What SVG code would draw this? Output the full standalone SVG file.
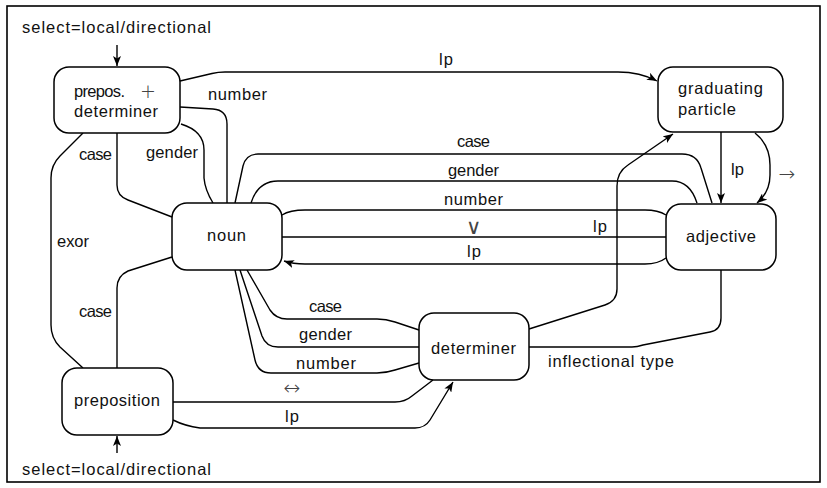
<svg xmlns="http://www.w3.org/2000/svg" width="827" height="488" viewBox="0 0 827 488">
  <defs>
    <marker id="arr" viewBox="0 0 10 8" refX="10" refY="4" markerWidth="10" markerHeight="8" markerUnits="userSpaceOnUse" orient="auto">
      <path d="M0,0 L10,4 L0,8 L2.5,4 Z" fill="#000"/>
    </marker>
    <style>
      text { font-family: "Liberation Sans", Arial, sans-serif; font-size: 16.5px; fill: #111; }
      .sym { font-family: "DejaVu Sans", sans-serif; font-weight: 200; fill: #444; }
      .node rect { fill: #fff; stroke: #000; stroke-width: 1.5; }
      .edges path { fill: none; stroke: #000; stroke-width: 1.4; }
      .edges path.arrow { marker-end: url(#arr); }
      .mid { text-anchor: middle; }
    </style>
  </defs>
  <rect width="827" height="488" fill="#fff"/>
  <rect x="7" y="6" width="813" height="476" fill="none" stroke="#000" stroke-width="1.6"/>

  <!-- connectors -->
  <g class="edges">
    <!-- external selection inputs -->
    <path class="arrow" d="M117,45 L117,66"/>
    <path class="arrow" d="M117,453 L117,436"/>
    <!-- prepos.+determiner edges -->
    <path class="arrow" d="M180,81 L212,73.5 Q218,72 225,72 L618,72 Q640,72 657,81"/>
    <path d="M180,107 L213,109 Q227,110 227,124 L227,203"/>
    <path d="M181,124 Q204,131 204,150 L204,178 Q205,190 213,203"/>
    <path d="M117,133 L117,185 Q117,196 128,200 L172,217"/>
    <path d="M83,133 L60,156 Q51,165 51,178 L51,325 Q51,338 60,347 L83,368"/>
    <!-- preposition to noun -->
    <path d="M117,368 L117,288 Q117,276 128,271 L172,257"/>
    <!-- noun to adjective -->
    <path d="M235,203 L243,166 Q246,154 258,154 L682,154 Q697,154 701,168 L712,203"/>
    <path d="M251,203 Q258,181 278,181 L672,181 Q690,181 697,203"/>
    <path d="M282,215 Q290,210 305,210 L645,210 Q658,210 666,215"/>
    <path d="M282,237 L666,237"/>
    <path class="arrow" d="M666,258 Q658,264 645,264 L305,264 Q293,264 284,261"/>
    <!-- graduating particle to adjective -->
    <path class="arrow" d="M721,132 L721,203"/>
    <path class="arrow" d="M755,133 Q770,145 770,165 L770,175 Q770,192 757,203"/>
    <!-- noun to determiner -->
    <path d="M247,270 L270,310 Q276,319 287,319 L377,319 Q386,319 395,322 L419,330"/>
    <path d="M240,270 L262,336 Q266,347 278,347 L419,347"/>
    <path d="M235,270 L255,360 Q258,373 271,373 L377,373 Q386,373 395,370 L419,363"/>
    <!-- determiner to graduating particle -->
    <path class="arrow" d="M529,329 L605,305 Q617,301 617,289 L617,186 Q617,172 628,165 L673,134"/>
    <!-- determiner to adjective -->
    <path d="M529,347 L632,347 Q637,347 643,345 L710,332 Q721,330 721,318 L721,270"/>
    <!-- preposition to determiner -->
    <path d="M173,402 L395,402 Q405,402 412,396 L433,380"/>
    <path class="arrow" d="M173,420 Q185,426 200,428 L415,428 Q425,428 430,420 L453,382"/>
  </g>

  <!-- connector labels -->
  <g id="labels">
    <text x="22" y="33" textLength="189" lengthAdjust="spacing">select=local/directional</text>
    <text x="22" y="475" textLength="189" lengthAdjust="spacing">select=local/directional</text>
    <text x="439" y="65" textLength="14" lengthAdjust="spacing">lp</text>
    <text x="208" y="100" textLength="59" lengthAdjust="spacing">number</text>
    <text x="146" y="158" textLength="52" lengthAdjust="spacing">gender</text>
    <text x="79" y="160" textLength="33" lengthAdjust="spacing">case</text>
    <text x="57" y="247" textLength="32" lengthAdjust="spacing">exor</text>
    <text x="79" y="317" textLength="33" lengthAdjust="spacing">case</text>
    <text x="457" y="147" textLength="33" lengthAdjust="spacing">case</text>
    <text x="448" y="176" textLength="51" lengthAdjust="spacing">gender</text>
    <text x="444" y="205" textLength="59" lengthAdjust="spacing">number</text>
    <text class="sym mid" x="473" y="234" style="font-size:21px">∨</text>
    <text x="593" y="232" textLength="14" lengthAdjust="spacing">lp</text>
    <text x="467" y="257" textLength="14" lengthAdjust="spacing">lp</text>
    <text x="731" y="175" textLength="13" lengthAdjust="spacing">lp</text>
    <text class="sym mid" x="787" y="181" style="font-size:20px">→</text>
    <text class="sym mid" x="292" y="395" style="font-size:20px">↔</text>
    <text x="309" y="312" textLength="33" lengthAdjust="spacing">case</text>
    <text x="299" y="340" textLength="53" lengthAdjust="spacing">gender</text>
    <text x="296" y="369" textLength="60" lengthAdjust="spacing">number</text>
    <text x="285" y="422" textLength="14" lengthAdjust="spacing">lp</text>
    <text x="548" y="367" textLength="126" lengthAdjust="spacing">inflectional type</text>
  </g>

  <!-- nodes -->
  <g id="prepos-determiner" class="node">
    <rect x="54" y="67" width="126" height="66" rx="15"/>
    <text x="74" y="97" textLength="51" lengthAdjust="spacing">prepos.</text>
    <text class="sym" x="140" y="98" style="font-size:19px">+</text>
    <text x="74" y="117" textLength="84" lengthAdjust="spacing">determiner</text>
  </g>
  <g id="graduating-particle" class="node">
    <rect x="658" y="67" width="125" height="65" rx="15"/>
    <text x="678" y="94" textLength="85" lengthAdjust="spacing">graduating</text>
    <text x="678" y="115" textLength="58" lengthAdjust="spacing">particle</text>
  </g>
  <g id="noun" class="node">
    <rect x="172" y="203" width="110" height="67" rx="15"/>
    <text x="207" y="241" textLength="39" lengthAdjust="spacing">noun</text>
  </g>
  <g id="adjective" class="node">
    <rect x="666" y="204" width="110" height="66" rx="15"/>
    <text x="686" y="242" textLength="70" lengthAdjust="spacing">adjective</text>
  </g>
  <g id="determiner" class="node">
    <rect x="419" y="313" width="110" height="67" rx="15"/>
    <text x="431" y="354" textLength="85" lengthAdjust="spacing">determiner</text>
  </g>
  <g id="preposition" class="node">
    <rect x="62" y="368" width="111" height="67" rx="15"/>
    <text x="74" y="406" textLength="86" lengthAdjust="spacing">preposition</text>
  </g>
</svg>
